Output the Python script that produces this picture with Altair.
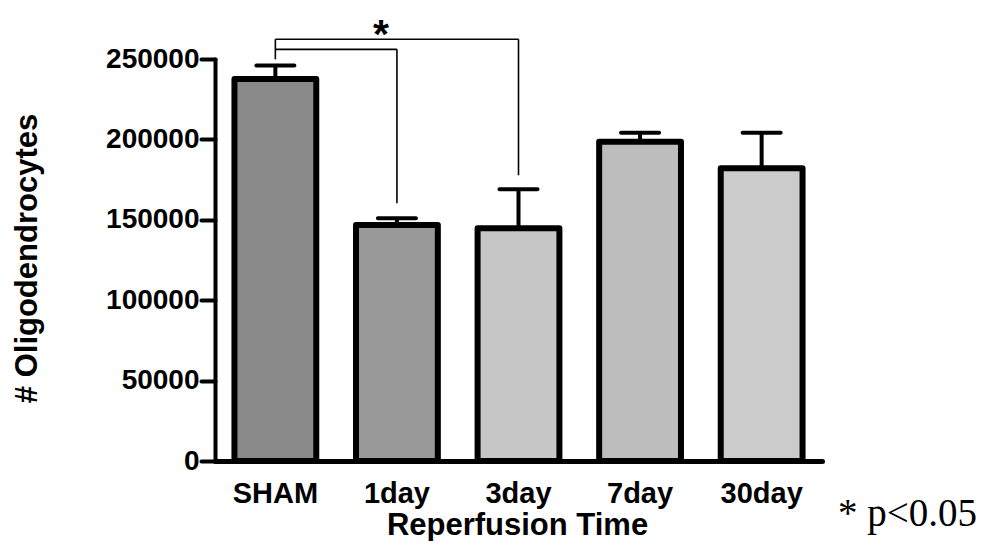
import altair as alt
import pandas as pd

# ---- data ----
groups = ["SHAM", "1day", "3day", "7day", "30day"]
means = [237500, 146800, 144700, 198600, 182000]
sems = [8400, 4100, 24300, 5600, 22200]
fills = ["#8a8a8a", "#999999", "#c6c6c6", "#bdbdbd", "#cbcbcb"]
y_ticks = [0, 50000, 100000, 150000, 200000, 250000]

# significance bracket (SHAM vs 1day and SHAM vs 3day)
bracket_from = ["SHAM", "SHAM"]
bracket_to = ["3day", "1day"]
bracket_level = [262300, 256000]
leg_groups = ["SHAM", "1day", "3day"]
leg_low = [249800, 160300, 177700]
leg_high = [262300, 256000, 262300]
star_group = ["1day"]
star_level = [257000]
note_text = "* p<0.05"

bars_df = pd.DataFrame({"group": groups, "mean": means, "sem": sems, "fill": fills})
bars_df["upper"] = bars_df["mean"] + bars_df["sem"]
hbr_df = pd.DataFrame({"from": bracket_from, "to": bracket_to, "level": bracket_level})
leg_df = pd.DataFrame({"group": leg_groups, "low": leg_low, "high": leg_high})
star_df = pd.DataFrame({"group": star_group, "level": star_level})
note_df = pd.DataFrame({"t": [note_text]})

FONT = "Liberation Sans"
ydom = alt.Scale(domain=[0, 250000], nice=False, zero=True)
xsc = alt.Scale(domain=groups, paddingInner=0.327, paddingOuter=0.16)

x_axis = alt.Axis(
    title="Reperfusion Time", labelAngle=0, ticks=False, tickSize=0,
    domainWidth=5, domainColor="black", domainCap="round",
    labelFont=FONT, labelFontSize=29, labelFontWeight="bold", labelColor="black",
    labelBaseline="alphabetic", labelPadding=41,
    titleFont=FONT, titleFontSize=31, titleFontWeight="bold", titleColor="black",
    titleBaseline="alphabetic", titleY=73, titleX=302, titleAlign="center",
)
y_axis = alt.Axis(
    title="# Oligodendrocytes", values=y_ticks, format="d", grid=False,
    domainWidth=4, domainColor="black", domainCap="round",
    tickWidth=4, tickSize=14, tickColor="black", tickCap="round",
    labelFont=FONT, labelFontSize=28, labelFontWeight="bold", labelColor="black",
    labelPadding=2, labelBaseline="middle",
    titleFont=FONT, titleFontSize=31, titleFontWeight="bold", titleColor="black",
    titleAngle=270, titleX=-188, titleY=199, titleAlign="center", titleBaseline="middle",
)

bars = alt.Chart(bars_df).mark_bar(stroke="black", strokeWidth=6, strokeJoin="round", opacity=1).encode(
    x=alt.X("group:N", scale=xsc, axis=x_axis),
    y=alt.Y("mean:Q", scale=ydom, axis=y_axis),
    color=alt.Color("fill:N", scale=None),
)
err = alt.Chart(bars_df).mark_rule(color="black", strokeWidth=4, opacity=1).encode(
    x=alt.X("group:N", scale=xsc),
    y=alt.Y("mean:Q", scale=ydom),
    y2="upper:Q",
)
caps = alt.Chart(bars_df).mark_tick(color="black", thickness=4, size=42, cornerRadius=2, opacity=1).encode(
    x=alt.X("group:N", scale=xsc),
    y=alt.Y("upper:Q", scale=ydom),
)
hbr = alt.Chart(hbr_df).mark_rule(color="black", strokeWidth=1.6, opacity=1).encode(
    x=alt.X("from:N", scale=xsc),
    x2="to:N",
    y=alt.Y("level:Q", scale=ydom),
)
legs = alt.Chart(leg_df).mark_rule(color="black", strokeWidth=1.6, opacity=1).encode(
    x=alt.X("group:N", scale=xsc),
    y=alt.Y("low:Q", scale=ydom),
    y2="high:Q",
)
star = alt.Chart(star_df).mark_text(
    text="*", font=FONT, fontSize=41, fontWeight="bold", baseline="alphabetic",
    align="center", dx=-16, color="black"
).encode(
    x=alt.X("group:N", scale=xsc),
    y=alt.Y("level:Q", scale=ydom),
)
note = alt.Chart(note_df).mark_text(
    font="Liberation Serif", fontSize=39, align="left", baseline="alphabetic", color="black"
).encode(
    x=alt.value(623), y=alt.value(467), text="t:N",
)

chart = alt.layer(bars, err, caps, hbr, legs, star, note).properties(
    width=607, height=402,
    padding={"left": 207, "top": 51, "right": 160, "bottom": 80},
    autosize=alt.AutoSizeParams(type="none"),
    background="white",
).configure_view(strokeWidth=0, stroke=None)

chart.save("out.html", embed_options={"renderer": "svg", "actions": False})
